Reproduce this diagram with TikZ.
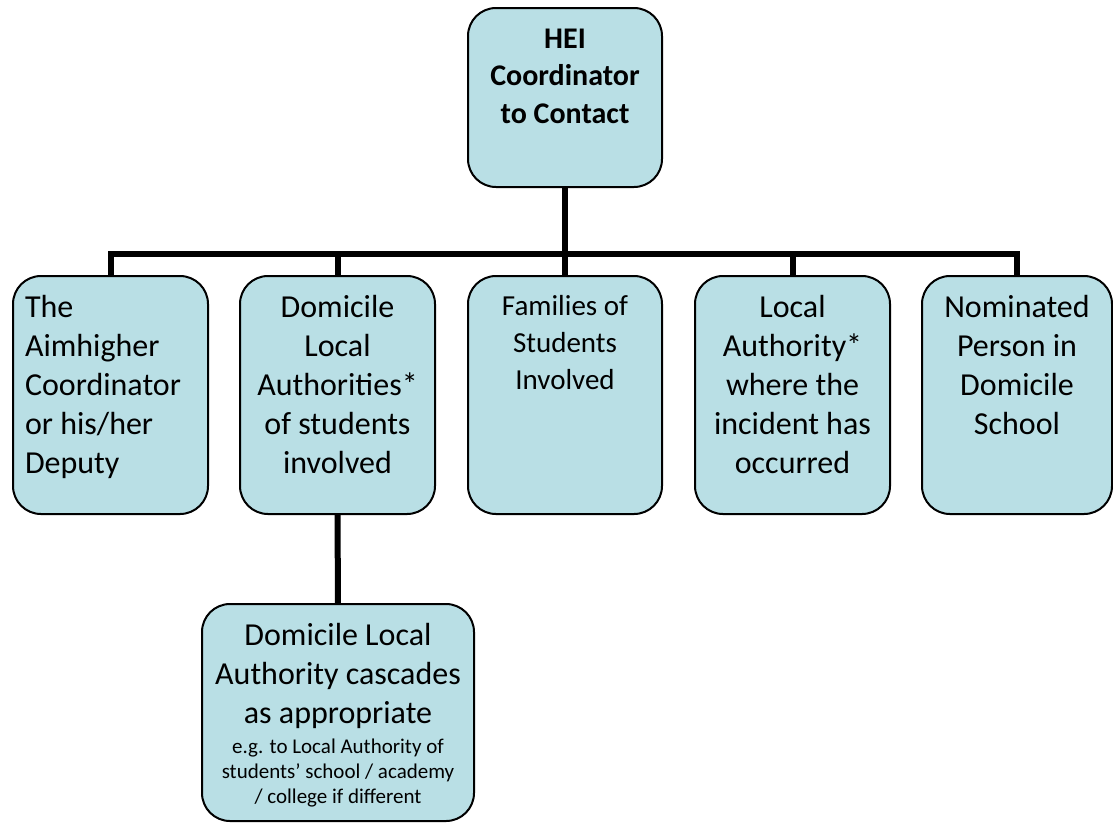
\documentclass[tikz,border=0pt]{standalone}
\usepackage{fontspec}
\setmainfont{Carlito}
\definecolor{boxfill}{RGB}{185,223,229}
\tikzset{
  orgbox/.style={draw=black, line width=2pt, fill=boxfill, rounded corners=28pt,
    inner xsep=12pt, inner ysep=0pt, outer sep=0pt},
  conn/.style={draw=black, line width=6pt, line join=miter, line cap=butt},
}
% #1 inner width, #2 height, #3 first baseline, #4 alignment and font, #5 text
\newcommand\boxcontent[5]{\parbox[c][#2][t]{#1}{#4\rule{0pt}{#3}#5}}
\newcommand\bigtext{\fontsize{32}{39}\selectfont}
\begin{document}
\begin{tikzpicture}[x=1pt,y=-1pt]
\useasboundingbox (0,0) rectangle (1113,823);

\node[orgbox] (hei) at (565,97.5)
  {\boxcontent{170pt}{179pt}{40pt}{\centering\fontsize{30}{37.5}\selectfont\bfseries}{HEI\\Coordinator\\to Contact}};

\node[orgbox] (aim) at (110.5,395)
  {\boxcontent{171pt}{238pt}{41pt}{\raggedright\bigtext}{The\\Aimhigher\\Coordinator\\or his/her\\Deputy}};
\node[orgbox] (dom) at (337.5,395)
  {\boxcontent{171pt}{238pt}{41pt}{\centering\bigtext}{Domicile\\Local\\Authorities*\\of students\\involved}};
\node[orgbox] (fam) at (565,395)
  {\boxcontent{170pt}{238pt}{39pt}{\centering\fontsize{29}{37}\selectfont}{Families of\\Students\\Involved}};
\node[orgbox] (la) at (792.5,395)
  {\boxcontent{171pt}{238pt}{41pt}{\centering\bigtext}{Local\\Authority*\\where the\\incident has\\occurred}};
\node[orgbox] (nom) at (1017,395)
  {\boxcontent{166pt}{238pt}{41pt}{\centering\bigtext}{Nominated\\Person in\\Domicile\\School}};

\node[orgbox] (cas) at (338,712.5)
  {\boxcontent{248pt}{217pt}{41pt}{\centering\bigtext}{Domicile Local\\Authority cascades\\as appropriate\par
   \vspace{5pt}\fontsize{21}{25}\selectfont e.g. to Local Authority of\\students’ school / academy\\/ college if different}};

\coordinate (bar) at (565,254);
\draw[conn] (hei.south) -- (fam.north);
\draw[conn] (aim.north) -- (aim.north |- bar) -- (nom.north |- bar) -- (nom.north);
\draw[conn] (dom.north) -- (dom.north |- bar);
\draw[conn] (la.north) -- (la.north |- bar);
\draw[conn] (dom.south) -- (cas.north);
\end{tikzpicture}
\end{document}
